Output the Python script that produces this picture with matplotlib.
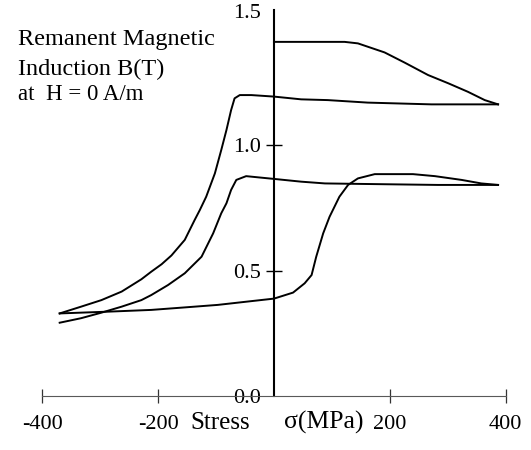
import matplotlib
matplotlib.use("Agg")
import matplotlib.pyplot as plt
from matplotlib.transforms import ScaledTranslation

plt.rcParams['font.family'] = ['Liberation Serif', 'DejaVu Serif']
plt.rcParams['axes.unicode_minus'] = False

# stress (MPa) / remanent induction (T)
top_x = [0, 60, 122, 145, 191, 226, 266, 301, 335, 364, 387]
top_y = [1.411, 1.411, 1.411, 1.405, 1.369, 1.328, 1.279, 1.246, 1.212, 1.179, 1.162]

upper_x = [387, 272, 162, 93, 47, 0, -39, -59, -68, -74, -82, -91, -102, -117,
           -128, -137, -154, -177, -194, -212, -229, -263, -298, -333, -370]
upper_y = [1.162, 1.162, 1.169, 1.179, 1.182, 1.193, 1.199, 1.199, 1.186, 1.139,
           1.060, 0.980, 0.887, 0.794, 0.741, 0.701, 0.622, 0.560, 0.525, 0.495,
           0.465, 0.416, 0.382, 0.356, 0.329]

bottom_x = [-370, -287, -212, -154, -97, -39, 0, 33, 53, 65, 73, 85, 96, 113,
            128, 145, 174, 240, 278, 324, 358, 387]
bottom_y = [0.329, 0.336, 0.343, 0.353, 0.363, 0.378, 0.388, 0.412, 0.449, 0.482,
            0.555, 0.648, 0.714, 0.794, 0.841, 0.867, 0.884, 0.884, 0.876, 0.861,
            0.847, 0.841]

middle_x = [387, 283, 151, 88, 47, 0, -22, -48, -65, -74, -82, -91, -105, -125,
            -154, -183, -212, -229, -263, -298, -333, -370]
middle_y = [0.841, 0.841, 0.845, 0.847, 0.854, 0.865, 0.870, 0.876, 0.861, 0.821,
            0.768, 0.728, 0.648, 0.555, 0.489, 0.442, 0.402, 0.382, 0.356, 0.332,
            0.310, 0.292]

xticks = [-400, -200, 200, 400]
xticklabels = ['-400', '-200', '200', '400']
yticks = [0.0, 0.5, 1.0, 1.5]
yticklabels = ['0.0', '0.5', '1.0', '1.5']

fig = plt.figure(figsize=(5.31, 4.5), dpi=100)
ax = fig.add_axes([42.3 / 531, 54 / 450, 463.3 / 531, 386 / 450])

for xs, ys in [(top_x, top_y), (upper_x, upper_y), (bottom_x, bottom_y), (middle_x, middle_y)]:
    ax.plot(xs, ys, color='black', lw=1.4, solid_joinstyle='round')

ax.set_xlim(-400, 400)
ax.set_ylim(0, 1.538)

ax.spines['top'].set_visible(False)
ax.spines['right'].set_visible(False)
ax.spines['left'].set_position(('data', 0))
ax.spines['left'].set_linewidth(1.5)
ax.spines['bottom'].set_color('0.35')
ax.spines['bottom'].set_linewidth(0.8)

ax.set_xticks(xticks)
ax.set_xticklabels(xticklabels)
ax.set_yticks(yticks)
ax.set_yticklabels(yticklabels)
ax.tick_params(axis='x', direction='inout', length=10, width=0.9, color='0.2',
               pad=9, labelsize=16)
ax.tick_params(axis='y', direction='inout', length=11, width=1.0, pad=3.5,
               labelsize=16)

yt = ax.yaxis.get_major_ticks()
yt[0].tick1line.set_visible(False)
yt[3].tick1line.set_visible(False)
yt[1].tick1line.set_color('0.55')
yt[3].label1.set_transform(yt[3].label1.get_transform()
                           + ScaledTranslation(0, 6 / 72, fig.dpi_scale_trans))

# axis title, split so the two words sit where the original has them
ax.text((220 - 42.3) / 463.3, -0.0855, 'Stress', transform=ax.transAxes,
        ha='center', va='baseline', fontsize=18)
ax.text((324 - 42.3) / 463.3, -0.0855, 'σ(MPa)', transform=ax.transAxes,
        ha='center', va='baseline', fontsize=18.5)

fig.text(18 / 531, 1 - 45 / 450, 'Remanent Magnetic', fontsize=17.5, va='baseline')
fig.text(18 / 531, 1 - 75 / 450, 'Induction B(T)', fontsize=17.5, va='baseline')
fig.text(18 / 531, 1 - 100 / 450, 'at  H = 0 A/m', fontsize=16.5, va='baseline')

fig.savefig('out.png', dpi=100)
